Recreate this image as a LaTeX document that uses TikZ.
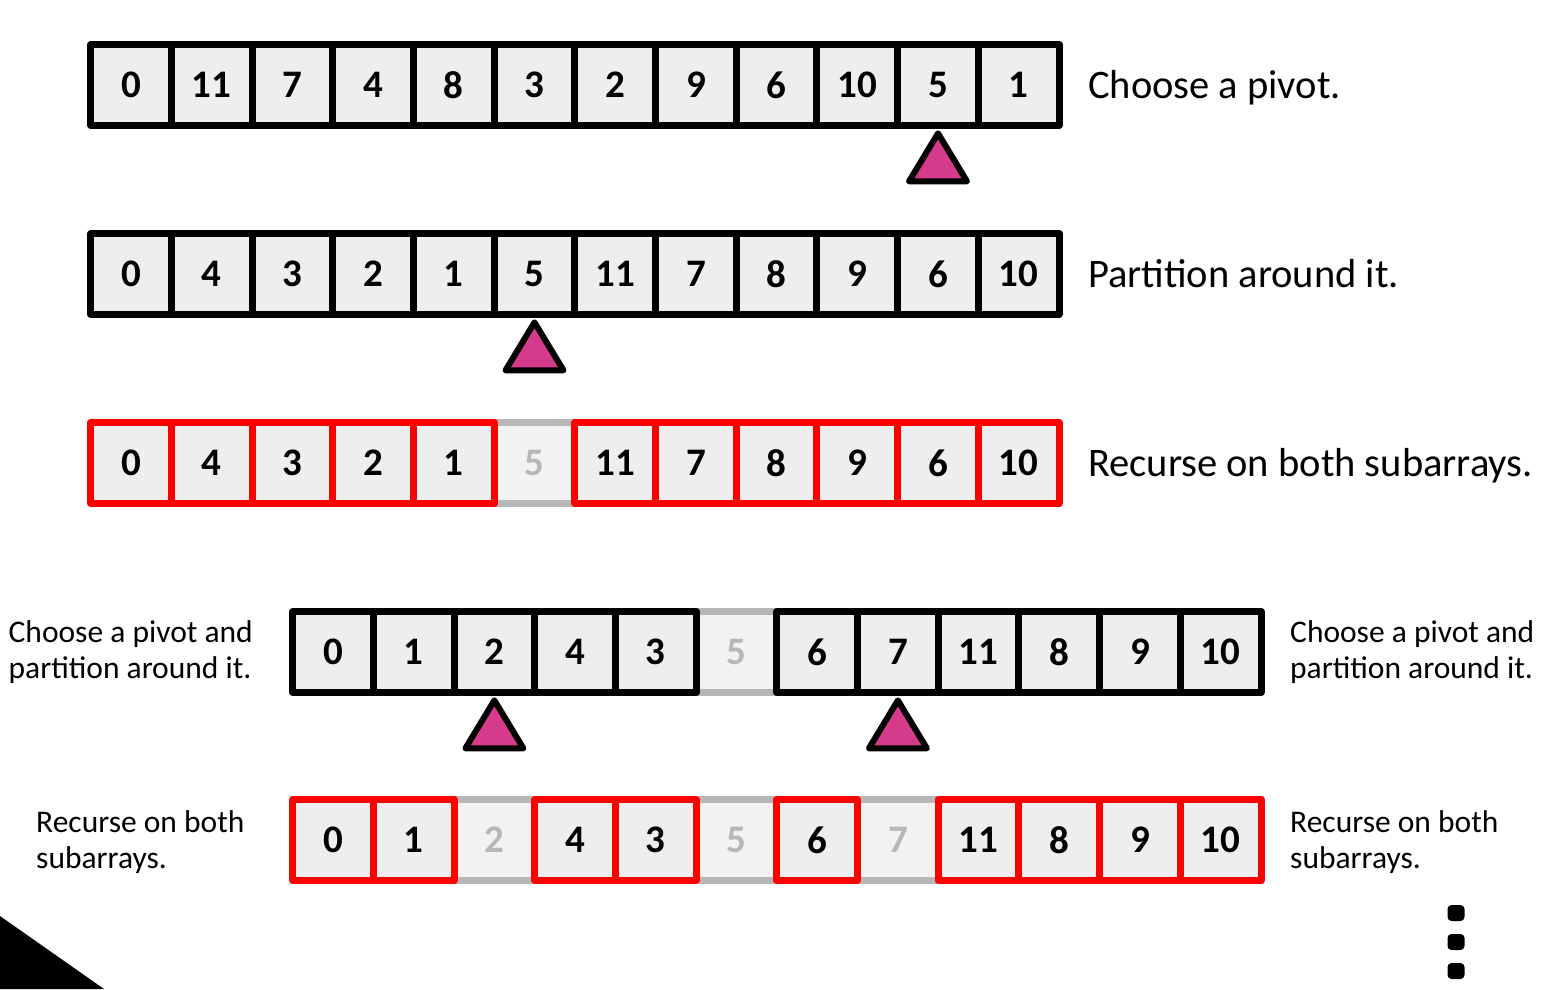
\documentclass[tikz,border=0pt]{standalone}
\usepackage{fontspec}
\setmainfont{Carlito}
\definecolor{cellfill}{HTML}{EEEEEE}
\definecolor{skipfill}{HTML}{F2F2F2}
\definecolor{skipgray}{HTML}{B7B7B7}
\definecolor{pivotpink}{HTML}{D63A8A}
\tikzset{
  cell/.style={draw=black, line width=7pt, line join=round, fill=cellfill,
    minimum size=80.7pt, inner sep=0pt, outer sep=0pt,
    font=\fontsize{39}{39}\selectfont\bfseries},
  subcell/.style={cell, draw=red},
  skipcell/.style={fill=skipfill, text=skipgray, minimum size=80.7pt,
    inner sep=0pt, outer sep=0pt, font=\fontsize{39}{39}\selectfont\bfseries},
  skipedge/.style={draw=skipgray, line width=7pt},
  pivotmark/.style={draw=black, fill=pivotpink, line width=6pt, line join=round},
  note/.style={anchor=base west, inner sep=0pt, font=\fontsize{40.5}{40}\selectfont},
  smallnote/.style={anchor=base west, inner sep=0pt, align=left,
    font=\fontsize{31.5}{36}\selectfont},
}
\begin{document}
\begin{tikzpicture}[x=1pt,y=-1pt]
        \useasboundingbox (0,0) rectangle (1551,989);
        % choose a pivot
        \foreach \v [count=\i from 0] in {0,11,7,4,8,3,2,9,6,10,5,1} {
                \node[cell] (r1c\i) at (131+\i*80.7,85) {\v};
        }
        \draw[pivotmark] ([yshift=-8pt]r1c10.south) -- ++(29,48) -- ++(-58,0) -- cycle;
        \node[note] (step1) at (1088,98) {Choose a pivot.};
        % partition
        \foreach \v [count=\i from 0] in {0,4,3,2,1,5,11,7,8,9,6,10} {
                \node[cell] (r2c\i) at (131+\i*80.7,274) {\v};
        }
        \draw[pivotmark] ([yshift=-8pt]r2c5.south) -- ++(29,48) -- ++(-58,0) -- cycle;
        \node[note] (step2) at (1088,287) {Partition around it.};
        % recurse
        \foreach \i in {5} {
                \node[skipcell] (r3c\i) at (131+\i*80.7,463) {\i};
                \draw[skipedge] (r3c\i.north west) -- (r3c\i.north east)
                        (r3c\i.south west) -- (r3c\i.south east);
        }
        \foreach \i/\v in {0/0,1/4,2/3,3/2,4/1,6/11,7/7,8/8,9/9,10/6,11/10} {
                \node[subcell] (r3c\i) at (131+\i*80.7,463) {\v};
        }
        \node[note] (step3) at (1088,476) {Recurse on both subarrays.};
        % second level: pivots
        \foreach \i in {5} {
                \node[skipcell] (r4c\i) at (333+\i*80.7,652) {\i};
                \draw[skipedge] (r4c\i.north west) -- (r4c\i.north east)
                        (r4c\i.south west) -- (r4c\i.south east);
        }
        \foreach \i/\v in {0/0,1/1,2/2,3/4,4/3,6/6,7/7,8/11,9/8,10/9,11/10} {
                \node[cell] (r4c\i) at (333+\i*80.7,652) {\v};
        }
        \foreach \i in {2,7} {
                \draw[pivotmark] ([yshift=-8pt]r4c\i.south) -- ++(29,48) -- ++(-58,0) -- cycle;
        }
        \node[smallnote] (step4l) at (8.5,678) {Choose a pivot and\\partition around it.};
        \node[smallnote] (step4r) at (1290,678) {Choose a pivot and\\partition around it.};
        % second level: recurse
        \foreach \i in {2,5,7} {
                \node[skipcell] (r5c\i) at (333+\i*80.7,840) {\i};
                \draw[skipedge] (r5c\i.north west) -- (r5c\i.north east)
                        (r5c\i.south west) -- (r5c\i.south east);
        }
        \foreach \i/\v in {0/0,1/1,3/4,4/3,6/6,8/11,9/8,10/9,11/10} {
                \node[subcell] (r5c\i) at (333+\i*80.7,840) {\v};
        }
        \node[smallnote] (step5l) at (36,868) {Recurse on both\\subarrays.};
        \node[smallnote] (step5r) at (1290,868) {Recurse on both\\subarrays.};
        % corner and dots
        \fill (0,916) -- (104,989) -- (0,989) -- cycle;
        \foreach \y in {913,942,971} {
                \fill[rounded corners=4pt] (1447.5,\y-8) rectangle (1464.5,\y+8);
        }
\end{tikzpicture}
\end{document}
